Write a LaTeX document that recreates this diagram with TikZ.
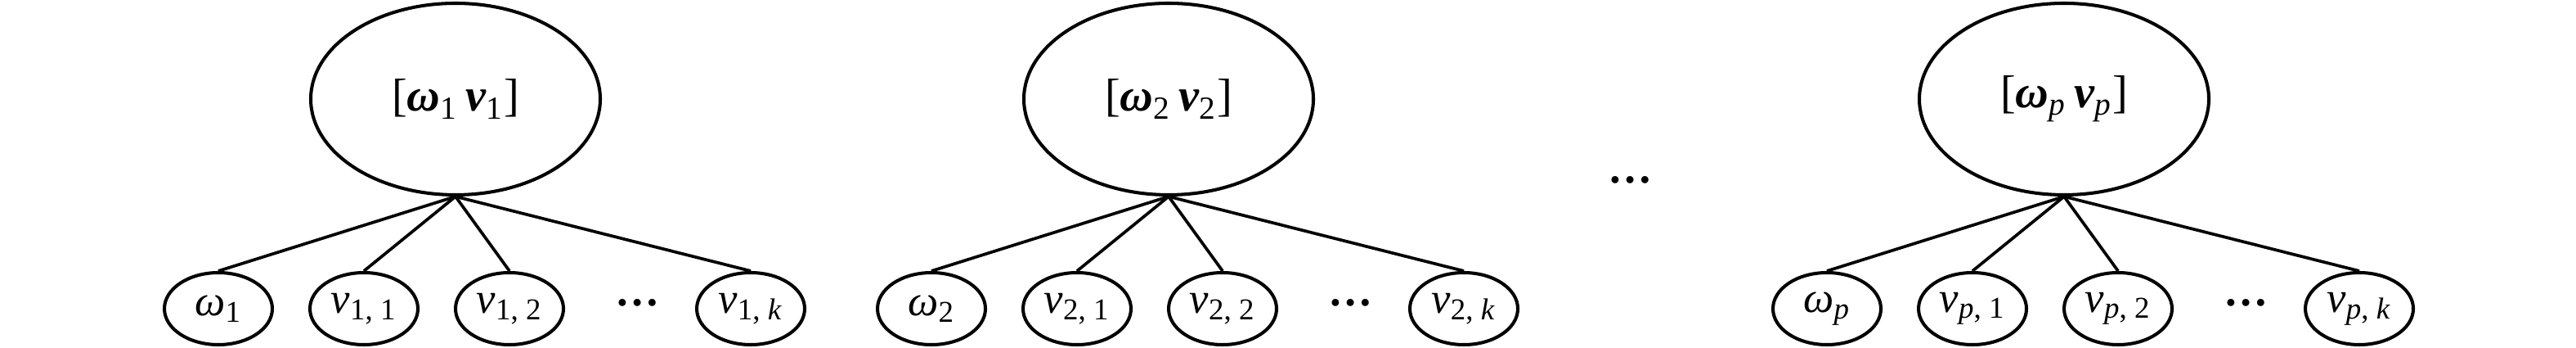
\documentclass[tikz,border=0pt]{standalone}
\usepackage{fontspec}
\setmainfont{Liberation Serif}
\usetikzlibrary{shapes.geometric}
\newcommand\Sub[1]{\textsubscript{#1}}
\tikzset{
  big/.style={draw, ellipse, line width=1.15pt, inner sep=0pt,
    minimum width=3.54cm, minimum height=2.34cm, font=\fontsize{16}{18}\selectfont},
  leaf/.style={draw, ellipse, line width=1.15pt, inner sep=0pt,
    minimum width=1.32cm, minimum height=0.88cm, font=\fontsize{15}{18}\selectfont},
  dots/.style={inner sep=0pt, font=\fontsize{15.4}{18}\selectfont\bfseries},
  link/.style={line width=1.05pt}
}
\begin{document}
\begin{tikzpicture}
\useasboundingbox (0,0) rectangle (31.5,4.25);
\foreach \g/\x/\s in {1/5.57/1, 2/14.29/2, p/25.24/{\textit{p}}}{
  \node[big] (b\g) at (\x,3.04) {[\textbf{\textit{ω}}\Sub{\s}\,\textbf{\textit{v}}\Sub{\s}]};
  \node[leaf] (w\g) at (\x-2.90,0.48) {\textit{ω}\Sub{\s}};
  \node[leaf] (a\g) at (\x-1.12,0.48) {\textit{v}\Sub{\s, 1}};
  \node[leaf] (c\g) at (\x+0.66,0.48) {\textit{v}\Sub{\s, 2}};
  \node[dots] (d\g) at (\x+2.23,0.55) {…};
  \node[leaf] (k\g) at (\x+3.61,0.48) {\textit{v}\Sub{\s, \textit{k}}};
  \draw[link] (b\g.south) -- (w\g.north);
  \draw[link] (b\g.south) -- (a\g.north);
  \draw[link] (b\g.south) -- (c\g.north);
  \draw[link] (b\g.south) -- (k\g.north);
}
\node[dots] (mid) at (19.94,2.05) {…};
\end{tikzpicture}
\end{document}
